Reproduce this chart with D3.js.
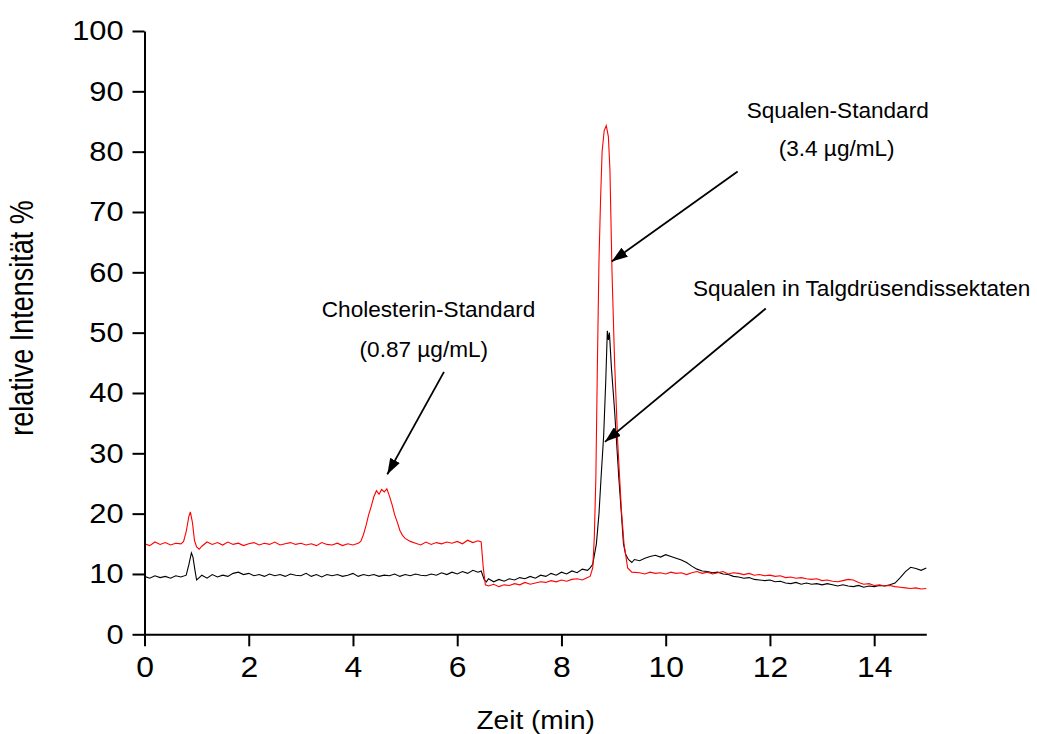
<!DOCTYPE html>
<html>
<head>
<meta charset="utf-8">
<script src="https://cdn.jsdelivr.net/npm/d3@7"></script>
<style>
  body { margin: 0; background: #fff; }
  svg { display: block; font-family: "Liberation Sans", Arial, sans-serif; }
</style>
</head>
<body>
<svg id="chart" width="1037" height="734"></svg>
<script>
// chromatogram: [time in min, relative intensity %]
var redTrace = [
  [0.0,15.0],[0.1,14.7],[0.2,15.3],[0.3,14.9],[0.4,15.2],[0.5,14.8],[0.6,15.1],[0.7,15.0],[0.75,15.4],
  [0.8,17.0],[0.85,19.5],[0.88,20.3],[0.92,18.5],[0.96,15.5],[1.0,14.5],[1.05,14.1],[1.1,14.6],
  [1.2,15.3],[1.3,14.9],[1.4,15.2],[1.5,14.8],[1.6,15.3],[1.7,14.9],[1.8,15.1],[1.9,14.7],[2.0,15.0],
  [2.1,15.2],[2.2,14.8],[2.3,15.1],[2.4,14.9],[2.5,15.3],[2.6,14.8],[2.7,15.0],[2.8,15.2],[2.9,14.9],
  [3.0,15.1],[3.1,14.8],[3.2,15.0],[3.3,14.7],[3.4,15.2],[3.5,14.9],[3.6,14.8],[3.7,15.1],[3.8,14.7],
  [3.9,15.0],[4.0,14.8],[4.1,15.1],[4.15,15.4],[4.2,16.5],[4.25,18.0],[4.3,19.8],[4.35,21.2],[4.4,22.8],
  [4.45,23.8],[4.5,23.2],[4.55,24.0],[4.6,23.6],[4.65,24.1],[4.7,22.9],[4.75,21.5],[4.8,19.8],[4.85,18.6],
  [4.9,17.2],[4.95,16.4],[5.0,15.9],[5.1,15.4],[5.2,15.1],[5.3,14.8],[5.4,15.3],[5.5,14.9],[5.6,15.2],
  [5.7,15.0],[5.8,15.3],[5.9,15.1],[6.0,15.4],[6.1,15.0],[6.2,15.6],[6.3,15.2],[6.4,15.5],[6.46,15.3],
  [6.5,11.0],[6.54,8.2],[6.6,8.0],[6.7,8.3],[6.8,7.9],[6.9,8.2],[7.0,8.1],[7.1,8.4],[7.2,8.2],[7.3,8.6],
  [7.4,8.3],[7.5,8.5],[7.6,8.7],[7.7,8.6],[7.8,8.9],[7.9,8.7],[8.0,9.0],[8.1,8.8],[8.2,9.1],[8.3,9.2],
  [8.4,9.0],[8.5,9.4],[8.55,9.6],[8.6,11.0],[8.63,16],[8.66,26],[8.69,45],[8.72,62],[8.75,72],[8.78,80],
  [8.82,83.5],[8.86,84.3],[8.9,82.5],[8.93,77],[8.97,60],[9.02,45],[9.08,31.7],[9.15,20.6],[9.2,15.0],
  [9.27,11.0],[9.35,10.3],[9.5,10.2],[9.6,10.0],[9.7,10.3],[9.8,10.1],[9.9,10.2],[10.0,10.0],[10.1,10.3],
  [10.2,10.1],[10.3,10.2],[10.4,9.9],[10.5,10.2],[10.6,10.4],[10.7,10.1],[10.8,10.3],[10.9,10.0],[11.0,10.2],
  [11.1,10.4],[11.2,10.0],[11.3,10.2],[11.4,10.1],[11.5,9.9],[11.6,10.1],[11.7,9.8],[11.8,9.9],[11.9,9.7],
  [12.0,9.8],[12.1,9.6],[12.2,9.7],[12.3,9.4],[12.4,9.5],[12.5,9.3],[12.6,9.4],[12.7,9.2],[12.8,9.1],
  [12.9,9.2],[13.0,8.9],[13.1,9.0],[13.2,8.8],[13.3,8.7],[13.4,8.9],[13.5,9.1],[13.6,9.0],[13.7,8.6],
  [13.8,8.3],[13.9,8.4],[14.0,8.1],[14.1,8.2],[14.2,8.0],[14.3,8.1],[14.4,7.9],[14.5,7.8],[14.6,7.7],
  [14.7,7.6],[14.8,7.7],[14.9,7.5],[15.0,7.6]
];

var blackTrace = [
  [0.0,9.6],[0.1,9.3],[0.2,9.7],[0.3,9.4],[0.4,9.6],[0.5,9.3],[0.6,9.7],[0.7,9.5],[0.8,9.8],[0.85,11.5],
  [0.9,13.5],[0.93,12.8],[0.97,10.5],[1.0,9.0],[1.05,9.4],[1.1,9.8],[1.2,9.3],[1.3,9.9],[1.4,9.5],[1.5,9.8],
  [1.6,9.6],[1.7,10.1],[1.8,10.3],[1.9,9.9],[2.0,10.1],[2.1,9.7],[2.2,9.9],[2.3,9.6],[2.4,10.0],[2.5,9.7],
  [2.6,9.9],[2.7,9.6],[2.8,10.0],[2.9,9.8],[3.0,9.7],[3.1,10.1],[3.2,9.6],[3.3,9.9],[3.4,9.5],[3.5,9.9],
  [3.6,9.7],[3.7,9.9],[3.8,9.6],[3.9,9.8],[4.0,10.1],[4.1,9.6],[4.2,9.9],[4.3,9.7],[4.4,9.9],[4.5,9.6],
  [4.6,9.8],[4.7,9.7],[4.8,10.0],[4.9,9.6],[5.0,9.9],[5.1,9.7],[5.2,10.0],[5.3,9.8],[5.4,9.7],[5.5,10.0],
  [5.6,9.8],[5.7,10.2],[5.8,9.9],[5.9,10.3],[6.0,10.0],[6.1,10.4],[6.2,10.1],[6.3,10.6],[6.4,10.3],
  [6.46,10.5],[6.52,9.0],[6.56,8.7],[6.6,9.2],[6.7,8.7],[6.8,9.1],[6.9,8.8],[7.0,9.2],[7.1,9.0],[7.2,9.4],
  [7.3,9.2],[7.4,9.6],[7.5,9.3],[7.6,9.8],[7.7,9.6],[7.8,10.1],[7.9,9.8],[8.0,10.3],[8.1,10.0],[8.2,10.5],
  [8.3,10.2],[8.4,10.8],[8.5,10.6],[8.55,11.0],[8.6,11.6],[8.67,15],[8.72,20],[8.76,26],[8.81,33],[8.85,42],
  [8.88,50.3],[8.9,48.8],[8.92,50.0],[8.96,44],[9.02,37],[9.1,26],[9.15,20],[9.19,15],[9.23,13.3],[9.27,12.6],
  [9.3,12.3],[9.35,11.9],[9.4,12.4],[9.5,12.2],[9.6,12.6],[9.7,12.9],[9.8,13.1],[9.9,12.8],[10.0,13.2],
  [10.1,12.9],[10.2,12.6],[10.3,12.3],[10.4,11.9],[10.5,11.3],[10.6,10.8],[10.7,10.5],[10.8,10.4],
  [10.9,10.2],[11.0,10.3],[11.1,10.0],[11.2,9.9],[11.3,9.6],[11.4,9.5],[11.5,9.3],[11.6,9.4],[11.7,9.1],
  [11.8,9.0],[11.9,8.9],[12.0,9.0],[12.1,8.7],[12.2,8.8],[12.3,8.5],[12.4,8.4],[12.5,8.6],[12.6,8.3],
  [12.7,8.5],[12.8,8.3],[12.9,8.4],[13.0,8.2],[13.1,8.4],[13.2,8.2],[13.3,8.0],[13.4,8.2],[13.5,8.0],
  [13.6,7.9],[13.7,8.1],[13.8,7.8],[13.9,8.0],[14.0,7.9],[14.1,8.1],[14.2,8.0],[14.3,8.2],[14.4,8.5],
  [14.5,9.4],[14.6,10.4],[14.7,11.1],[14.8,10.9],[14.9,10.6],[15.0,11.0]
];

var xMajorTicks = [0, 2, 4, 6, 8, 10, 12, 14];
var xMinorTicks = [1, 3, 5, 7, 9, 11, 13, 15];
var yMajorTicks = [0, 10, 20, 30, 40, 50, 60, 70, 80, 90, 100];
var yMinorTicks = [5, 15, 25, 35, 45, 55, 65, 75, 85, 95];

// annotation labels and arrows, in data units
var labels = [
  {text: "Squalen-Standard", t: 13.30, v: 85.6},
  {text: "(3.4 µg/mL)", t: 13.28, v: 79.2},
  {text: "Squalen in Talgdrüsendissektaten", t: 13.76, v: 56.1},
  {text: "Cholesterin-Standard", t: 5.45, v: 52.6},
  {text: "(0.87 µg/mL)", t: 5.36, v: 46.0}
];
var arrows = [
  {t1: 11.38, v1: 76.7, t2: 8.964, v2: 61.8},
  {t1: 11.92, v1: 54.0, t2: 8.835, v2: 31.9},
  {t1: 5.746, v1: 43.5, t2: 4.658, v2: 26.5}
];

var svg = d3.select('#chart');
var stretch = 1.1; // text in the picture is a bit wide

var x = d3.scaleLinear().domain([0, 15]).range([144.5, 926.3]);
var y = d3.scaleLinear().domain([0, 100]).range([634.3, 31]);

var line = d3.line()
  .x(function (d) { return x(d[0]); })
  .y(function (d) { return y(d[1]); });

svg.append('path')
  .datum(blackTrace)
  .attr('d', line)
  .attr('fill', 'none')
  .attr('stroke', '#000')
  .attr('stroke-width', 1.1);

svg.append('path')
  .datum(redTrace)
  .attr('d', line)
  .attr('fill', 'none')
  .attr('stroke', '#ff0000')
  .attr('stroke-width', 1.1);

// axes
var xAxis = svg.append('g').attr('transform', 'translate(0,' + y(0) + ')');
xAxis.call(d3.axisBottom(x).tickValues(xMinorTicks).tickSize(7).tickSizeOuter(0).tickFormat(''));
xAxis.call(d3.axisBottom(x).tickValues(xMajorTicks).tickSize(12).tickSizeOuter(0).tickPadding(10).tickFormat(d3.format('d')));

var yAxis = svg.append('g').attr('transform', 'translate(' + x(0) + ',0)');
yAxis.call(d3.axisLeft(y).tickValues(yMinorTicks).tickSize(7).tickSizeOuter(0).tickFormat(''));
yAxis.call(d3.axisLeft(y).tickValues(yMajorTicks).tickSize(12).tickSizeOuter(0).tickPadding(7).tickFormat(d3.format('d')));

svg.selectAll('.domain').attr('stroke-width', 2);
svg.selectAll('.tick line').attr('stroke-width', 2);
svg.selectAll('.tick text')
  .attr('font-size', 28)
  .attr('font-family', '"Liberation Sans", Arial, sans-serif')
  .attr('fill', '#000')
  .attr('transform', 'scale(' + stretch + ',1)');
xAxis.selectAll('.tick text').attr('font-size', 29);

// axis titles
svg.append('text')
  .attr('transform', 'translate(535.7,729) scale(' + stretch + ',1)')
  .attr('text-anchor', 'middle')
  .attr('font-size', 25.5)
  .text('Zeit (min)');

svg.append('text')
  .attr('transform', 'translate(33,318) scale(1.2,1) rotate(-90)')
  .attr('text-anchor', 'middle')
  .attr('font-size', 27)
  .text('relative Intensität %');

// annotations
svg.append('defs').append('marker')
  .attr('id', 'head')
  .attr('markerUnits', 'userSpaceOnUse')
  .attr('markerWidth', 17)
  .attr('markerHeight', 11)
  .attr('refX', 16)
  .attr('refY', 5.5)
  .attr('orient', 'auto')
  .append('path')
  .attr('d', 'M0,0 L16,5.5 L0,11 Z')
  .attr('fill', '#000');

svg.selectAll('.arrow')
  .data(arrows)
  .enter().append('line')
  .attr('class', 'arrow')
  .attr('x1', function (d) { return x(d.t1); })
  .attr('y1', function (d) { return y(d.v1); })
  .attr('x2', function (d) { return x(d.t2); })
  .attr('y2', function (d) { return y(d.v2); })
  .attr('stroke', '#000')
  .attr('stroke-width', 1.8)
  .attr('marker-end', 'url(#head)');

svg.selectAll('.label')
  .data(labels)
  .enter().append('text')
  .attr('class', 'label')
  .attr('x', function (d) { return x(d.t); })
  .attr('y', function (d) { return y(d.v); })
  .attr('text-anchor', 'middle')
  .attr('font-size', 22.6)
  .text(function (d) { return d.text; });
</script>
</body>
</html>
